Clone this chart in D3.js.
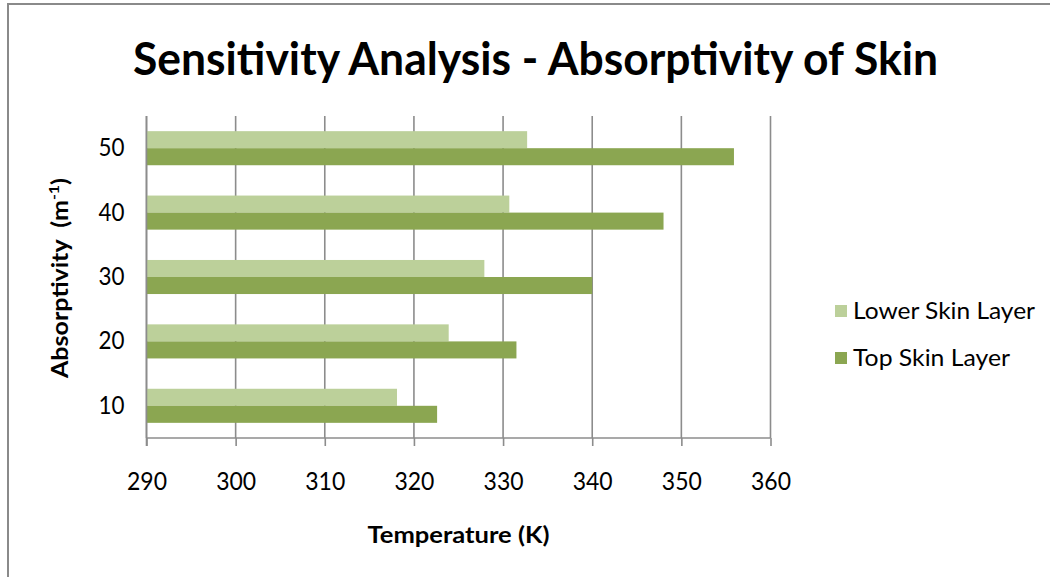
<!DOCTYPE html>
<html>
<head>
<meta charset="utf-8">
<script src="https://cdn.jsdelivr.net/npm/d3@7"></script>
<style>
  html, body { margin: 0; padding: 0; background: #fff; }
  svg { display: block; }
  text { font-family: Lato, "Open Sans", sans-serif; fill: #000; }
</style>
</head>
<body>
<svg id="chart" width="1050" height="577"></svg>
<script>
// Absorptivity levels (m^-1), listed top to bottom as drawn
const categories = ["50", "40", "30", "20", "10"];
const seriesNames = ["Lower Skin Layer", "Top Skin Layer"];
// Temperatures (K) per absorptivity level, same order as categories
const lowerSkin = [332.7, 330.7, 327.9, 323.9, 318.1];
const topSkin   = [355.9, 348.0, 340.0, 331.5, 322.6];
const xTicks = [290, 300, 310, 320, 330, 340, 350, 360];
const seriesColors = ["#bcd09a", "#8ba651"];

const svg = d3.select("#chart");
const plot = { left: 146.5, right: 770.5, top: 116, bottom: 438 };

// outer chart frame
svg.append("rect")
  .attr("x", 8).attr("y", 4)
  .attr("width", 1100).attr("height", 620)
  .attr("fill", "#fff")
  .attr("stroke", "#8a8a8a").attr("stroke-width", 2);

const x = d3.scaleLinear().domain([290, 360]).range([plot.left, plot.right]);
const y = d3.scaleBand().domain(categories).range([plot.top, plot.bottom]).padding(0);
const yInner = d3.scaleBand().domain(seriesNames).range([0, y.bandwidth()])
  .paddingInner(0).paddingOuter(0.89);

// vertical gridlines with ticks below the axis
const xAxis = d3.axisBottom(x).tickValues(xTicks).tickSize(8).tickPadding(26).tickFormat(d3.format("d"));
const gx = svg.append("g").attr("transform", `translate(0,${plot.bottom})`).call(xAxis);
gx.select(".domain").attr("stroke", "#8c8c8c").attr("stroke-width", 1.6)
  .attr("d", `M${plot.left},0H${plot.right}`);
gx.selectAll(".tick line").attr("stroke", "#8c8c8c").attr("stroke-width", 1.6);
gx.selectAll(".tick text")
  .attr("font-size", 25).attr("font-family", "Lato, sans-serif").attr("fill", "#000")
  .attr("textLength", 40).attr("lengthAdjust", "spacingAndGlyphs");

svg.append("g").selectAll("line").data(xTicks).join("line")
  .attr("x1", d => x(d)).attr("x2", d => x(d))
  .attr("y1", plot.top).attr("y2", plot.bottom)
  .attr("stroke", "#8c8c8c").attr("stroke-width", 1.6);

// bars
const series = [lowerSkin, topSkin];
const barGroup = svg.append("g");
seriesNames.forEach((name, si) => {
  barGroup.selectAll(null).data(categories).join("rect")
    .attr("x", x(290))
    .attr("y", (c) => y(c) + yInner(name))
    .attr("width", (c, i) => x(series[si][i]) - x(290))
    .attr("height", yInner.bandwidth())
    .attr("fill", seriesColors[si]);
});

// category axis
const yAxis = d3.axisLeft(y).tickSize(0).tickPadding(22);
const gy = svg.append("g").attr("transform", `translate(${plot.left},0)`).call(yAxis);
gy.select(".domain").attr("stroke", "#8c8c8c").attr("stroke-width", 1.6)
  .attr("d", `M0,${plot.top}V${plot.bottom + 8}`);
gy.selectAll(".tick text")
  .attr("font-size", 25).attr("font-family", "Lato, sans-serif").attr("fill", "#000")
  .attr("textLength", 26).attr("lengthAdjust", "spacingAndGlyphs");

// title
svg.append("text")
  .attr("x", 535.5).attr("y", 75)
  .attr("text-anchor", "middle")
  .attr("font-size", 46).attr("font-weight", "bold")
  .attr("textLength", 805).attr("lengthAdjust", "spacingAndGlyphs")
  .text("Sensitivity Analysis - Absorptivity of Skin");

// x axis title
svg.append("text")
  .attr("x", (plot.left + plot.right) / 2).attr("y", 543)
  .attr("text-anchor", "middle")
  .attr("font-size", 22).attr("font-weight", "bold")
  .attr("textLength", 182).attr("lengthAdjust", "spacingAndGlyphs")
  .text("Temperature (K)");

// y axis title with superscript
const yTitle = svg.append("text")
  .attr("transform", "translate(68,278) rotate(-90)")
  .attr("text-anchor", "middle")
  .attr("font-size", 22).attr("font-weight", "bold")
  .attr("textLength", 200).attr("lengthAdjust", "spacingAndGlyphs");
yTitle.append("tspan").text("Absorptivity\u00a0\u00a0(m");
yTitle.append("tspan").attr("font-size", 14).attr("dy", -9).text("-1");
yTitle.append("tspan").attr("dy", 9).text(")");

// legend
const legend = svg.append("g");
const legendWidths = [182, 157];
seriesNames.forEach((name, i) => {
  const cy = 311 + i * 47;
  legend.append("rect")
    .attr("x", 835).attr("y", cy - 6).attr("width", 12).attr("height", 12)
    .attr("fill", seriesColors[i]);
  legend.append("text")
    .attr("x", 853).attr("y", cy + 8)
    .attr("font-size", 23)
    .attr("textLength", legendWidths[i]).attr("lengthAdjust", "spacingAndGlyphs")
    .text(name);
});
</script>
</body>
</html>
